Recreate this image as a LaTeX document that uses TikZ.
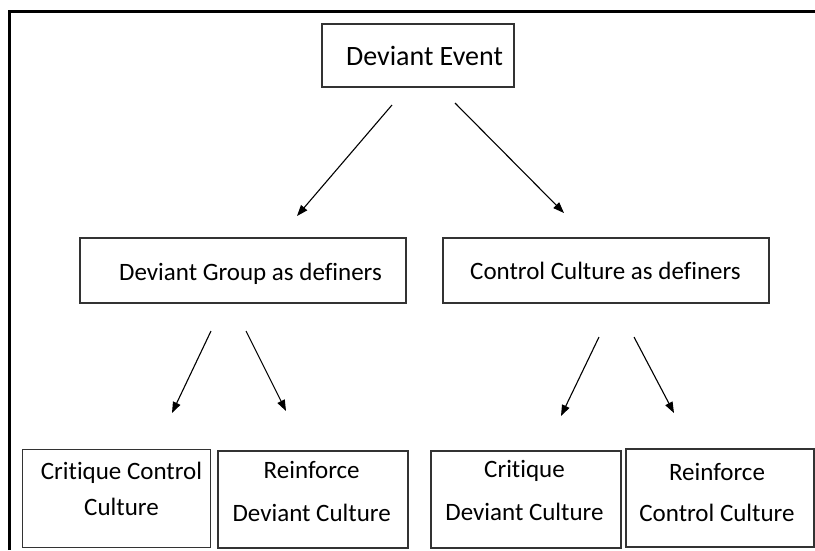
\documentclass[tikz,border=0pt]{standalone}
\usepackage{fontspec}
\setmainfont{Carlito}[Ligatures=NoCommon]
\usetikzlibrary{arrows.meta}
\tikzset{
  box/.style={draw=black!80, line width=1.2pt, inner sep=0pt},
  txt/.style={inner sep=0pt, anchor=base, font=\fontsize{25}{30}\selectfont},
  bigtxt/.style={txt, font=\fontsize{28}{34}\selectfont},
  arr/.style={line width=1.1pt, -{Triangle[length=11pt,width=8pt]}},
}
\begin{document}
\begin{tikzpicture}[x=1pt,y=-1pt]
\useasboundingbox (0,0) rectangle (815,550);
\draw[line width=3.2pt] (9.8,550) -- (9.8,11.4) -- (815,11.4);
% boxes
\node[box, minimum width=192pt, minimum height=63pt] (ev) at (418,55.5) {};
\node[box, minimum width=326pt, minimum height=65pt] (dg) at (243,270.5) {};
\node[box, minimum width=326pt, minimum height=65pt] (cc) at (606,270.5) {};
\node[box, minimum width=188pt, minimum height=98pt] (ccc) at (116.5,498.5) {};
\node[box, minimum width=190pt, minimum height=97pt] (rdc) at (313,499.5) {};
\node[box, minimum width=190pt, minimum height=97pt] (cdc) at (526,499.5) {};
\node[box, minimum width=188pt, minimum height=98pt] (rcc) at (720,498) {};
% texts
\node[bigtxt] (ev-t) at (424.5,65) {Deviant Event};
\node[txt] (dg-t) at (250.5,280) {Deviant Group as definers};
\node[txt] (cc-t) at (605.5,279) {Control Culture as definers};
\node[txt] (ccc-t1) at (121.5,479) {Critique Control};
\node[txt] (ccc-t2) at (121.5,515) {Culture};
\node[txt] (rdc-t1) at (311.7,478) {Reinforce};
\node[txt] (rdc-t2) at (311.7,521) {Deviant Culture};
\node[txt] (cdc-t1) at (524.5,477) {Critique};
\node[txt] (cdc-t2) at (524.5,520) {Deviant Culture};
\node[txt] (rcc-t1) at (717,480) {Reinforce};
\node[txt] (rcc-t2) at (717,521.5) {Control Culture};
% arrow endpoints
\coordinate (a1s) at (392,105); \coordinate (a1e) at (297,216);
\coordinate (a2s) at (455,103); \coordinate (a2e) at (564,213);
\coordinate (b1s) at (211,331); \coordinate (b1e) at (172,413);
\coordinate (b2s) at (246,331); \coordinate (b2e) at (286,411);
\coordinate (c1s) at (599,337); \coordinate (c1e) at (561,416);
\coordinate (c2s) at (634,337); \coordinate (c2e) at (674,413);
\draw[arr] (a1s) -- (a1e);
\draw[arr] (a2s) -- (a2e);
\draw[arr] (b1s) -- (b1e);
\draw[arr] (b2s) -- (b2e);
\draw[arr] (c1s) -- (c1e);
\draw[arr] (c2s) -- (c2e);
\end{tikzpicture}
\end{document}
